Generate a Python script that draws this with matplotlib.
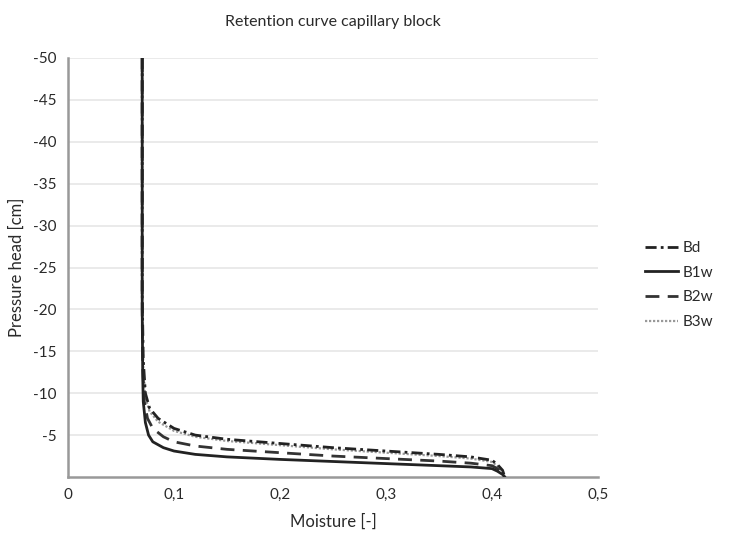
import matplotlib
matplotlib.use("Agg")
import matplotlib.pyplot as plt
from matplotlib.ticker import FuncFormatter

plt.rcParams['font.family'] = ['Lato', 'DejaVu Sans']

# Data (moisture [-], pressure head [cm])
bd_x = [0.07, 0.07, 0.071, 0.073, 0.077, 0.085, 0.1, 0.12, 0.15, 0.2, 0.25, 0.3, 0.35, 0.38, 0.4, 0.405, 0.41, 0.412]
bd_y = [-50, -22, -14, -10, -8.2, -7.0, -5.8, -5.0, -4.5, -4.0, -3.5, -3.1, -2.7, -2.4, -2.0, -1.5, -0.8, 0]

b1w_x = [0.07, 0.07, 0.0705, 0.071, 0.073, 0.076, 0.08, 0.09, 0.1, 0.12, 0.15, 0.2, 0.25, 0.3, 0.35, 0.38, 0.4, 0.405, 0.41, 0.412]
b1w_y = [-50, -20, -12, -9, -6.5, -5.0, -4.2, -3.5, -3.1, -2.7, -2.4, -2.1, -1.85, -1.6, -1.35, -1.2, -1.0, -0.7, -0.3, 0]

b2w_x = [0.07, 0.07, 0.0705, 0.072, 0.075, 0.08, 0.09, 0.1, 0.12, 0.15, 0.2, 0.25, 0.3, 0.35, 0.38, 0.4, 0.405, 0.41, 0.412]
b2w_y = [-50, -20, -13, -9, -7.0, -5.8, -4.8, -4.2, -3.7, -3.3, -2.9, -2.5, -2.2, -1.9, -1.65, -1.35, -1.0, -0.5, 0]

b3w_x = [0.07, 0.07, 0.071, 0.073, 0.077, 0.085, 0.1, 0.12, 0.15, 0.2, 0.25, 0.3, 0.35, 0.38, 0.4, 0.405, 0.41, 0.412]
b3w_y = [-50, -22, -13, -9.5, -7.8, -6.6, -5.5, -4.8, -4.3, -3.8, -3.3, -2.9, -2.5, -2.2, -1.8, -1.3, -0.6, 0]

y_ticks = [-5, -10, -15, -20, -25, -30, -35, -40, -45, -50]
x_ticks = [0, 0.1, 0.2, 0.3, 0.4, 0.5]

fig = plt.figure(figsize=(7.36, 5.43), dpi=100)
ax = fig.add_axes([68/736, 1-477/543, (598-68)/736, (477-58)/543])

tc = '#2a2a2a'
ax.plot(bd_x, bd_y, color='#222222', lw=2.0, linestyle=(0, (4, 1.5, 1, 1.5)), label='Bd', zorder=3)
ax.plot(b1w_x, b1w_y, color='#222222', lw=2.0, linestyle='-', label='B1w', zorder=5)
ax.plot(b2w_x, b2w_y, color='#333333', lw=2.0, linestyle=(0, (5, 3)), label='B2w', zorder=4)
ax.plot(b3w_x, b3w_y, color='#999999', lw=1.6, linestyle=(0, (1, 0.8)), label='B3w', zorder=2)

ax.set_xlim(0, 0.5)
ax.set_ylim(0, -50)
ax.set_yticks(y_ticks)
ax.set_xticks(x_ticks)
ax.xaxis.set_major_formatter(FuncFormatter(lambda v, p: ('%g' % round(v, 2)).replace('.', ',')))
ax.yaxis.set_major_formatter(FuncFormatter(lambda v, p: '%d' % v))
ax.tick_params(length=0, labelsize=11, colors=tc, pad=8)

ax.grid(axis='y', color='#e6e6e6', lw=1.2)
ax.set_axisbelow(True)
for s in ['top', 'right']:
    ax.spines[s].set_visible(False)
for s in ['left', 'bottom']:
    ax.spines[s].set_color('#999999')
    ax.spines[s].set_linewidth(1.8)

ax.set_title('Retention curve capillary block', fontsize=11.5, color=tc, pad=23)
ax.set_xlabel('Moisture [-]', fontsize=12, color=tc, labelpad=8)
ax.set_ylabel('Pressure head [cm]', fontsize=12, color=tc, labelpad=6)

leg = fig.legend(loc='center left', bbox_to_anchor=(631/736, 1-285/543), frameon=False,
                 fontsize=11, handlelength=2.2, handletextpad=0.3, labelspacing=0.7)
for t in leg.get_texts():
    t.set_color(tc)

fig.savefig('out.png', dpi=100)
